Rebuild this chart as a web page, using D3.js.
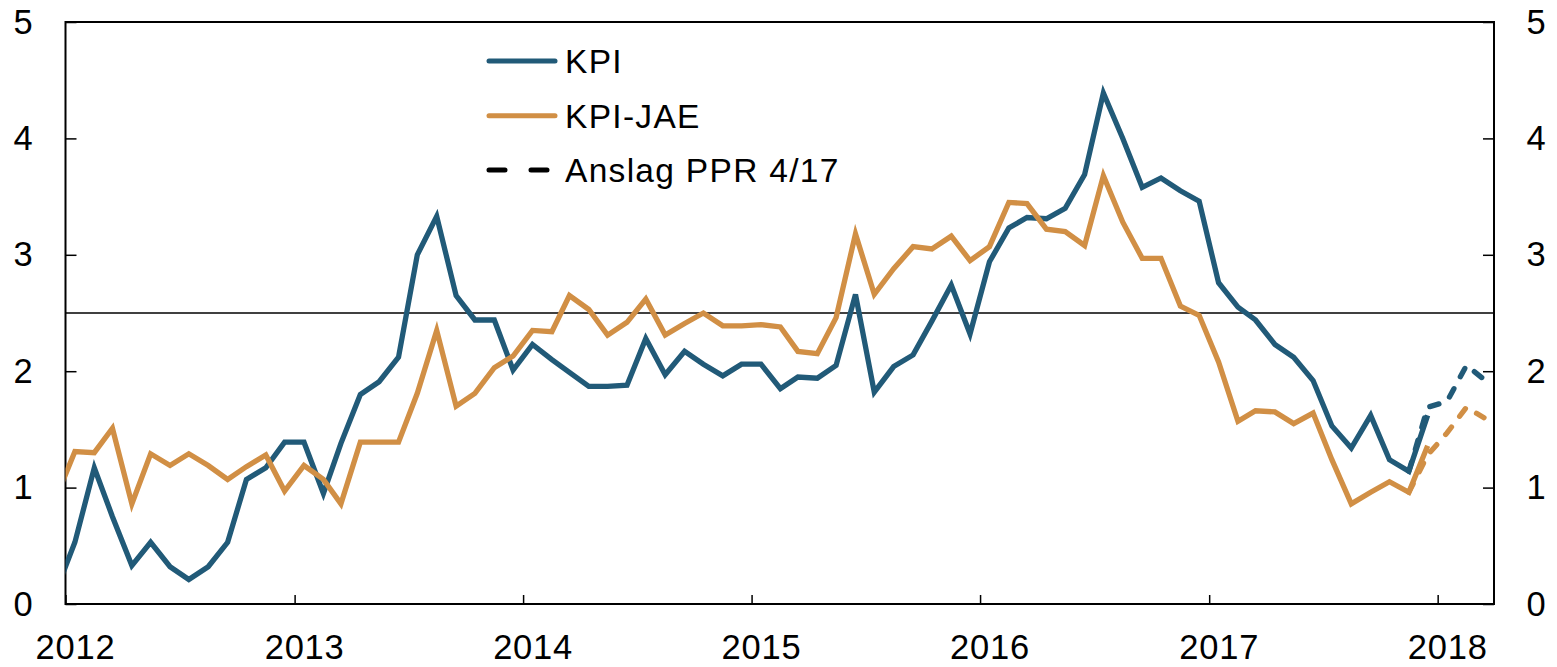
<!DOCTYPE html>
<html>
<head>
<meta charset="utf-8">
<style>

body {
  margin: 0;
  background: #fff;
}

text {
  font-family: "Liberation Sans", Arial, sans-serif;
  fill: #000;
}

.tick text {
  font-size: 34.5px;
  letter-spacing: 0.8px;
}

.legend text {
  font-size: 33.5px;
  letter-spacing: 1.3px;
}

.tick line {
  stroke: #000;
  stroke-width: 1.5px;
}

.frame {
  fill: none;
  stroke: #000;
  stroke-width: 2px;
}

.series {
  fill: none;
  stroke-width: 5.3px;
}

</style>
</head>
<body>
<svg width="1557" height="667"></svg>
<script src="https://cdn.jsdelivr.net/npm/d3@7"></script>
<script>

// monthly series, first value is Dec 2011 (clipped at the left edge)
var firstMonth = "2011-12";
var kpi = [0.10,
  0.53, 1.17, 0.75, 0.33, 0.53, 0.32, 0.21, 0.32, 0.53, 1.07, 1.17, 1.39,
  1.39, 0.95, 1.38, 1.80, 1.91, 2.12, 3.00, 3.33, 2.65, 2.44, 2.44, 2.01,
  2.23, 2.10, 1.99, 1.87, 1.87, 1.88, 2.28, 1.97, 2.17, 2.06, 1.96, 2.06,
  2.06, 1.85, 1.95, 1.94, 2.05, 2.66, 1.82, 2.04, 2.14, 2.43, 2.74, 2.32,
  2.94, 3.23, 3.32, 3.31, 3.40, 3.69, 4.39, 4.00, 3.58, 3.66, 3.55, 3.46,
  2.76, 2.55, 2.44, 2.23, 2.12, 1.92, 1.53, 1.34, 1.62, 1.24, 1.14, 1.62];
var kpiJae = [0.90,
  1.31, 1.30, 1.51, 0.86, 1.29, 1.19, 1.29, 1.19, 1.07, 1.18, 1.28, 0.97,
  1.19, 1.07, 0.86, 1.39, 1.39, 1.39, 1.81, 2.35, 1.70, 1.81, 2.03, 2.13,
  2.35, 2.34, 2.65, 2.53, 2.31, 2.42, 2.62, 2.31, 2.41, 2.50, 2.39, 2.39,
  2.40, 2.38, 2.17, 2.15, 2.46, 3.18, 2.66, 2.88, 3.07, 3.05, 3.16, 2.95,
  3.07, 3.45, 3.44, 3.22, 3.20, 3.08, 3.68, 3.28, 2.97, 2.97, 2.56, 2.48,
  2.08, 1.57, 1.66, 1.65, 1.55, 1.64, 1.24, 0.86, 0.96, 1.05, 0.96, 1.36];

// Anslag PPR 4/17, Nov 2017 - Mar 2018
var forecastMonth = "2017-11";
var kpiForecast = [1.14, 1.69, 1.74, 2.05, 1.93];
var kpiJaeForecast = [0.96, 1.28, 1.47, 1.69, 1.60];

var inflationTarget = 2.5;
var yTicks = [0, 1, 2, 3, 4, 5];
var seriesNames = ["KPI", "KPI-JAE", "Anslag PPR 4/17"];

var blue = "#215a78",
    orange = "#d18f45";

var svg = d3.select("svg"),
    margin = {top: 22, right: 63, bottom: 63, left: 65.5},
    width = 1557 - margin.left - margin.right,
    height = 667 - margin.top - margin.bottom;

var parseMonth = d3.timeParse("%Y-%m");

function toPoints(start, values) {
  var t0 = parseMonth(start);
  return values.map(function(v, i) {
    var m = d3.timeMonth.offset(t0, i);
    // plot each month in the middle of the month
    return {date: new Date(m.getFullYear(), m.getMonth(), 16), value: v};
  });
}

var x = d3.scaleTime()
    .domain([new Date(2012, 0, 1), new Date(2018, 3, 1)])
    .range([0, width]);

var y = d3.scaleLinear()
    .domain([0, 5])
    .range([height, 0]);

var g = svg.append("g")
    .attr("transform", "translate(" + margin.left + "," + margin.top + ")");

g.append("clipPath")
    .attr("id", "clip")
  .append("rect")
    .attr("width", width)
    .attr("height", height);

// axes
var xAxis = g.append("g")
    .attr("transform", "translate(0," + height + ")")
    .call(d3.axisBottom(x)
        .ticks(d3.timeYear.every(1))
        .tickFormat(d3.timeFormat("%Y"))
        .tickSize(-9)
        .tickPadding(31));
xAxis.select(".domain").remove();
xAxis.selectAll("text")
    .attr("x", 9.5);

var yLeft = g.append("g")
    .call(d3.axisLeft(y).tickValues(yTicks).tickFormat(d3.format("d")).tickSize(-11));
yLeft.select(".domain").remove();
yLeft.selectAll("text")
    .attr("text-anchor", "middle")
    .attr("x", -42);

var yRight = g.append("g")
    .attr("transform", "translate(" + width + ",0)")
    .call(d3.axisRight(y).tickValues(yTicks).tickFormat(d3.format("d")).tickSize(-11));
yRight.select(".domain").remove();
yRight.selectAll("text")
    .attr("text-anchor", "middle")
    .attr("x", 42.5);

g.append("rect")
    .attr("class", "frame")
    .attr("width", width)
    .attr("height", height);

g.append("line")
    .attr("x1", 0)
    .attr("x2", width)
    .attr("y1", y(inflationTarget))
    .attr("y2", y(inflationTarget))
    .attr("stroke", "#000")
    .attr("stroke-width", 1.5);

var line = d3.line()
    .x(function(d) { return x(d.date); })
    .y(function(d) { return y(d.value); });

var lines = g.append("g")
    .attr("clip-path", "url(#clip)");

lines.append("path")
    .datum(toPoints(firstMonth, kpi))
    .attr("class", "series")
    .attr("stroke", blue)
    .attr("d", line);

lines.append("path")
    .datum(toPoints(firstMonth, kpiJae))
    .attr("class", "series")
    .attr("stroke", orange)
    .attr("d", line);

lines.append("path")
    .datum(toPoints(forecastMonth, kpiForecast))
    .attr("class", "series")
    .attr("stroke", blue)
    .attr("stroke-linecap", "round")
    .attr("stroke-dasharray", "9.5 13.5")
    .attr("d", line);

lines.append("path")
    .datum(toPoints(forecastMonth, kpiJaeForecast))
    .attr("class", "series")
    .attr("stroke", orange)
    .attr("stroke-linecap", "round")
    .attr("stroke-dasharray", "9.5 13.5")
    .attr("d", line);

// legend
var legendItems = [
  {name: seriesNames[0], color: blue, dash: null, ly: 61, ty: 73.3},
  {name: seriesNames[1], color: orange, dash: null, ly: 115.7, ty: 128.3},
  {name: seriesNames[2], color: "#000", dash: "16 26", ly: 170, ty: 181.7}
];

var legend = svg.append("g")
    .attr("class", "legend");

var item = legend.selectAll("g")
    .data(legendItems)
    .enter().append("g");

item.append("line")
    .attr("x1", 489)
    .attr("x2", function(d) { return d.dash ? 547 : 555; })
    .attr("y1", function(d) { return d.ly; })
    .attr("y2", function(d) { return d.ly; })
    .attr("stroke", function(d) { return d.color; })
    .attr("stroke-width", 5)
    .attr("stroke-linecap", "round")
    .attr("stroke-dasharray", function(d) { return d.dash; });

item.append("text")
    .attr("x", 565)
    .attr("y", function(d) { return d.ty; })
    .text(function(d) { return d.name; });

</script>
</body>
</html>
